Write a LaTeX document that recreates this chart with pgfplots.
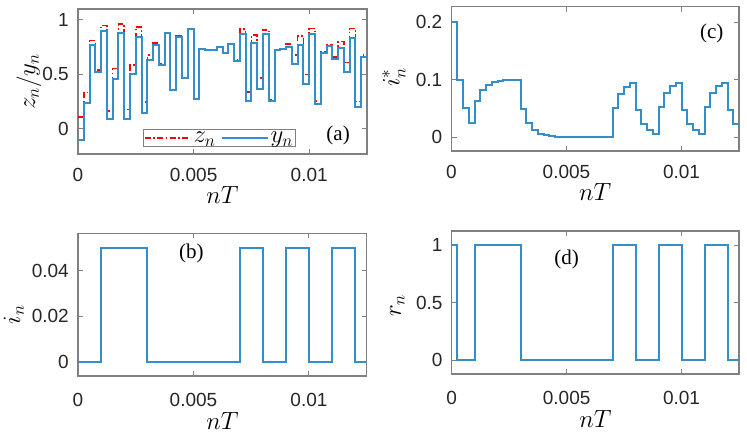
\documentclass[border=0pt]{standalone}
\usepackage{fontspec}
\setmainfont{Liberation Sans}
\newfontfamily\timesfont{Liberation Serif}
\usepackage{pgfplots}
\usepackage{pgfplotstable}
\pgfplotsset{compat=1.18}
\definecolor{mblue}{rgb}{0,0.447,0.741}
\definecolor{axgray}{gray}{0.5}

\pgfplotstableread{
x z y
0 0.107 -0.10
0.00025 0.333 0.24
0.0005 0.81 0.77
0.00075 0.54 0.525
0.001 0.95 0.90
0.00125 0.162 0.09
0.0015 0.553 0.46
0.00175 0.96 0.88
0.002 0.177 0.09
0.00225 0.584 0.505
0.0025 0.935 0.845
0.00275 0.248 0.15
0.003 0.676 0.635
0.00325 0.79 0.768
0.0035 0.593 0.585
0.00375 0.885 0.88
0.004 0.36 0.36
0.00425 0.85 0.845
0.0045 0.47 0.465
0.00475 0.92 0.915
0.005 0.27 0.27
0.00525 0.73 0.73
0.0055 0.72 0.72
0.00575 0.72 0.72
0.006 0.75 0.75
0.00625 0.70 0.70
0.0065 0.785 0.78
0.00675 0.63 0.62
0.007 0.915 0.87
0.00725 0.34 0.26
0.0075 0.86 0.79
0.00775 0.465 0.37
0.008 0.91 0.87
0.00825 0.265 0.26
0.0085 0.725 0.72
0.00875 0.735 0.73
0.009 0.777 0.755
0.00925 0.676 0.60
0.0095 0.85 0.77
0.00975 0.50 0.416
0.01 0.92 0.875
0.01025 0.254 0.23
0.0105 0.706 0.70
0.01075 0.767 0.76
0.011 0.66 0.645
0.01125 0.80 0.743
0.0115 0.61 0.523
0.01175 0.92 0.83
0.012 0.25 0.20
0.01225 0.676 0.66
0.0125 0.676 0.66
}\dataA

\pgfplotstableread{
x is
0 0.2
0.00025 0.1
0.0005 0.05
0.00075 0.025
0.001 0.0625
0.00125 0.08125
0.0015 0.0906
0.00175 0.0953
0.002 0.0977
0.00225 0.0988
0.0025 0.0994
0.00275 0.0997
0.003 0.0499
0.00325 0.0249
0.0035 0.0125
0.00375 0.0062
0.004 0.0031
0.00425 0.0016
0.0045 0.0008
0.00475 0.0004
0.005 0.0002
0.00525 0.0001
0.0055 0.00005
0.00575 0.0
0.006 0.0
0.00625 0.0
0.0065 0.0
0.00675 0.0
0.007 0.05
0.00725 0.075
0.0075 0.0875
0.00775 0.0938
0.008 0.0469
0.00825 0.0234
0.0085 0.0117
0.00875 0.0059
0.009 0.0529
0.00925 0.0765
0.0095 0.0882
0.00975 0.0941
0.01 0.0471
0.01025 0.0235
0.0105 0.0118
0.01075 0.0059
0.011 0.0529
0.01125 0.0765
0.0115 0.0882
0.01175 0.0941
0.012 0.0471
0.01225 0.0235
0.0125 0.0235
}\dataC

\pgfplotstableread{
x i
0 0
0.001 0.05
0.003 0
0.007 0.05
0.008 0
0.009 0.05
0.010 0
0.011 0.05
0.012 0
0.0125 0
}\dataB

\pgfplotstableread{
x r
0 1
0.00025 0
0.001 1
0.003 0
0.007 1
0.008 0
0.009 1
0.010 0
0.011 1
0.012 0
0.0125 0
}\dataD

\pgfplotsset{
  myax/.style={
    scale only axis, anchor=south west,
    xmin=0, xmax=0.0125,
    xtick={0,0.005,0.01}, xticklabels={0,0.005,0.01},
    scaled x ticks=false, scaled y ticks=false,
    tick align=inside, major tick length=5pt,
    axis line style={axgray, line width=1.1pt},
    every tick/.style={axgray, line width=1pt},
    tick label style={font=\fontsize{19}{19}\selectfont, text=black!85},
    /pgf/number format/assume math mode=true,
    xticklabel style={inner sep=0pt, anchor=north, yshift=-14pt},
    yticklabel style={inner sep=0pt, anchor=east, xshift=-9pt},
    xlabel={$nT$},
    every axis x label/.style={at={(axis description cs:0.5,0)}, anchor=center, yshift=-41pt, font=\fontsize{23}{23}\selectfont},
    every axis y label/.style={anchor=center, rotate=90, font=\fontsize{23}{23}\selectfont},
  },
  bottomax/.style={
    xticklabel style={yshift=-3pt},
    every axis x label/.append style={yshift=-4pt},
  },
  bl/.style={const plot, color=mblue!80!white, line width=2pt},
}

\begin{document}
\begin{tikzpicture}
\useasboundingbox (0pt,0pt) rectangle (747pt,435pt);

% (a)
\begin{axis}[myax, at={(78pt,281pt)}, width=289pt, height=145pt,
  ymin=-0.23, ymax=1.1, ytick={0,0.5,1}, yticklabels={0,0.5,1},
  ylabel={$z_n/y_n$},
  every axis y label/.append style={at={(axis description cs:-0.17,0.5)}},
  legend columns=2,
  legend style={at={(0.225,0.048)}, anchor=south west, draw=axgray, line width=1.1pt,
    font=\fontsize{24}{24}\selectfont, inner sep=0.5pt, fill=white,
    /tikz/every even column/.append style={column sep=3pt}},
  legend image code/.code={\draw[#1] (0pt,0pt) -- (46pt,0pt);},
]
\addplot[const plot, color=red, line width=1.6pt, dash pattern=on 6pt off 2.5pt on 1.5pt off 2.5pt] table[x=x,y=z] {\dataA};
\addlegendentry{$z_n$}
\addplot[bl] table[x=x,y=y] {\dataA};
\addlegendentry{$y_n$}
\node[font=\timesfont\fontsize{21}{21}\selectfont] at (rel axis cs:0.9,0.13) {(a)};
\end{axis}

% (c)
\begin{axis}[myax, at={(451.5pt,284pt)}, width=287.5pt, height=144.3pt,
  ymin=-0.024, ymax=0.227, ytick={0,0.1,0.2}, yticklabels={0,0.1,0.2},
  ylabel={$i^{*}_n$},
  every axis y label/.append style={at={(axis description cs:-0.2,0.51)}},
]
\addplot[bl] table[x=x,y=is] {\dataC};
\node[font=\timesfont\fontsize{21}{21}\selectfont] at (rel axis cs:0.905,0.815) {(c)};
\end{axis}

% (b)
\begin{axis}[myax, bottomax, at={(78pt,59pt)}, width=288.7pt, height=142.7pt,
  ymin=-0.006, ymax=0.0563, ytick={0,0.02,0.04}, yticklabels={0,0.02,0.04},
  ylabel={$i_n$},
  every axis y label/.append style={at={(axis description cs:-0.222,0.43)}},
]
\addplot[bl] table[x=x,y=i] {\dataB};
\node[font=\timesfont\fontsize{21}{21}\selectfont] at (rel axis cs:0.393,0.86) {(b)};
\end{axis}

% (d)
\begin{axis}[myax, bottomax, at={(451.7pt,61pt)}, width=287.3pt, height=143pt,
  ymin=-0.12, ymax=1.125, ytick={0,0.5,1}, yticklabels={0,0.5,1},
  ylabel={$r_n$},
  every axis y label/.append style={at={(axis description cs:-0.189,0.48)}},
]
\addplot[bl] table[x=x,y=r] {\dataD};
\node[font=\timesfont\fontsize{21}{21}\selectfont] at (rel axis cs:0.40,0.80) {(d)};
\end{axis}
\end{tikzpicture}
\end{document}
